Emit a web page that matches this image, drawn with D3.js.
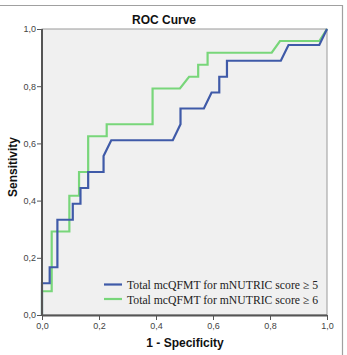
<!DOCTYPE html>
<html><head><meta charset="utf-8">
<script src="https://cdnjs.cloudflare.com/ajax/libs/d3/7.8.5/d3.min.js"></script>
<style>body{margin:0;background:#fff}svg{display:block}</style>
</head><body>
<svg id="c" width="347" height="355"></svg>
<script>
const title = "ROC Curve";
const xLabel = "1 - Specificity";
const yLabel = "Sensitivity";
const tickValues = [0, 0.2, 0.4, 0.6, 0.8, 1.0];
const seriesNames = ["Total mcQFMT for mNUTRIC score \u2265 5", "Total mcQFMT for mNUTRIC score \u2265 6"];
const seriesColors = ["#3f5aa8", "#78d67a"];
const fprScore5 = [0, 0, 0.027, 0.027, 0.054, 0.054, 0.108, 0.108, 0.135, 0.135, 0.162, 0.162, 0.216, 0.216, 0.243, 0.459, 0.486, 0.486, 0.568, 0.595, 0.622, 0.622, 0.649, 0.649, 0.838, 0.865, 0.973, 1];
const tprScore5 = [0, 0.111, 0.111, 0.167, 0.167, 0.333, 0.333, 0.389, 0.389, 0.444, 0.444, 0.5, 0.5, 0.556, 0.611, 0.611, 0.667, 0.722, 0.722, 0.778, 0.778, 0.833, 0.833, 0.889, 0.889, 0.944, 0.944, 1];
const fprScore6 = [0, 0, 0.034, 0.034, 0.096, 0.096, 0.13, 0.13, 0.162, 0.162, 0.227, 0.227, 0.388, 0.388, 0.484, 0.516, 0.548, 0.548, 0.581, 0.581, 0.806, 0.835, 0.973, 1];
const tprScore6 = [0, 0.083, 0.083, 0.292, 0.292, 0.417, 0.417, 0.5, 0.5, 0.625, 0.625, 0.667, 0.667, 0.792, 0.792, 0.833, 0.833, 0.875, 0.875, 0.917, 0.917, 0.958, 0.958, 1];

const svg = d3.select("#c");
const L = 42, R = 327, T = 29, B = 315;
const x = d3.scaleLinear().domain([0, 1]).range([L, R]);
const y = d3.scaleLinear().domain([0, 1]).range([B, T]);
const fmt = d => d3.format(".1f")(d).replace(".", ",");

// outer frame (top and right visible)
svg.append("path").attr("d", "M0,5.5H342.5V355").attr("fill", "none").attr("stroke", "#a0a0a0").attr("stroke-width", 1.2);

// plot area
svg.append("rect").attr("x", L).attr("y", T).attr("width", R - L).attr("height", B - T)
  .attr("fill", "#f0f0f0").attr("stroke", "#9a9a9a").attr("stroke-width", 1);

svg.append("text").attr("x", 164).attr("y", 24).attr("text-anchor", "middle")
  .attr("font-family", "Liberation Sans, Arial, sans-serif").attr("font-weight", "bold").attr("font-size", 12)
  .attr("fill", "#111").text(title);

const line = d3.line().x(d => x(d[0])).y(d => y(d[1]));
const series = [d3.zip(fprScore5, tprScore5), d3.zip(fprScore6, tprScore6)];
// draw green first, then blue on top
[1, 0].forEach(i => {
  svg.append("path").datum(series[i]).attr("d", line).attr("fill", "none")
    .attr("stroke", seriesColors[i]).attr("stroke-width", 2.2).attr("stroke-linejoin", "miter");
});

// axes
const xAxis = svg.append("g").attr("transform", `translate(0,${B})`)
  .call(d3.axisBottom(x).tickValues(tickValues).tickFormat(fmt).tickSize(5).tickPadding(3));
const yAxis = svg.append("g").attr("transform", `translate(${L},0)`)
  .call(d3.axisLeft(y).tickValues(tickValues).tickFormat(fmt).tickSize(5).tickPadding(1));
[xAxis, yAxis].forEach(g => {
  g.select(".domain").attr("stroke", "#555").attr("stroke-width", 2);
  g.selectAll(".tick line").attr("stroke", "#555").attr("stroke-width", 1);
  g.selectAll("text").attr("font-family", "Liberation Sans, Arial, sans-serif").attr("font-size", 9).attr("fill", "#444");
});
xAxis.select(".domain").attr("d", `M${L},0.5H${R}`);
yAxis.select(".domain").attr("d", `M0,${B}V${T}`);

svg.append("text").attr("x", 185).attr("y", 347).attr("text-anchor", "middle")
  .attr("font-family", "Liberation Sans, Arial, sans-serif").attr("font-weight", "bold").attr("font-size", 12)
  .attr("fill", "#111").text(xLabel);
svg.append("text").attr("transform", "translate(17,167) rotate(-90)").attr("text-anchor", "middle")
  .attr("font-family", "Liberation Sans, Arial, sans-serif").attr("font-weight", "bold").attr("font-size", 12)
  .attr("fill", "#111").text(yLabel);

// legend
const lg = svg.append("g");
seriesNames.forEach((n, i) => {
  const yy = 284.5 + i * 14.5;
  lg.append("line").attr("x1", 104).attr("x2", 122).attr("y1", yy).attr("y2", yy)
    .attr("stroke", seriesColors[i]).attr("stroke-width", 2.2);
  lg.append("text").attr("x", 127).attr("y", yy + 4.5)
    .attr("font-family", "Liberation Serif, Times New Roman, serif").attr("font-size", 11.7)
    .attr("fill", "#222").text(n);
});
</script>
</body></html>
